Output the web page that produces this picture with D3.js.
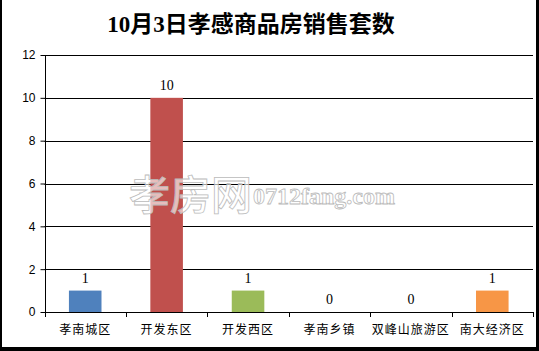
<!DOCTYPE html>
<html><head><meta charset="utf-8">
<script src="https://cdn.jsdelivr.net/npm/d3@7"></script>
<style>body{margin:0;background:#fff}svg{display:block}</style>
</head><body>
<script>
const categories = ["孝南城区","开发东区","开发西区","孝南乡镇","双峰山旅游区","南大经济区"];
const values = [1,10,1,0,0,1];
const colors = ["#4F81BD","#C0504D","#9BBB59","#8064A2","#4BACC6","#F79646"];
const yTicks = [0,2,4,6,8,10,12];
const title = "10月3日孝感商品房销售套数";

const W = 539, H = 351;
const svg = d3.select("body").append("svg").attr("width", W).attr("height", H);
svg.append("rect").attr("width", W).attr("height", H).attr("fill", "#fff");

const m = {left: 44.5, right: 533, top: 55, bottom: 312};
const x = d3.scaleBand().domain(categories).range([m.left, m.right]).paddingInner(0.6).paddingOuter(0.3);
const y = d3.scaleLinear().domain([0, 12]).range([m.bottom, m.top]);

// gridlines
svg.append("g").selectAll("line").data(yTicks.filter(d => d > 0)).join("line")
  .attr("x1", m.left).attr("x2", m.right)
  .attr("y1", d => Math.round(y(d)) + 0.5).attr("y2", d => Math.round(y(d)) + 0.5)
  .attr("stroke", "#000").attr("stroke-width", 1);

// bars
svg.append("g").selectAll("rect").data(values).join("rect")
  .attr("x", (d, i) => x(categories[i]))
  .attr("width", x.bandwidth())
  .attr("y", d => y(d))
  .attr("height", d => y(0) - y(d))
  .attr("fill", (d, i) => colors[i]);

// value labels
svg.append("g").selectAll("text").data(values).join("text")
  .attr("x", (d, i) => x(categories[i]) + x.bandwidth() / 2)
  .attr("y", d => y(d) - 8)
  .attr("text-anchor", "middle")
  .attr("font-family", "'Liberation Serif', serif")
  .attr("font-size", 14)
  .attr("fill", "#000")
  .text(d => d);

// y axis
const yAxis = svg.append("g").attr("transform", `translate(${Math.round(m.left)+0.5},0)`)
  .call(d3.axisLeft(y).tickValues(yTicks).tickSize(5).tickPadding(5).tickFormat(d3.format("d")));
yAxis.select(".domain").attr("stroke", "#000").attr("d", `M0,${m.top}V${m.bottom}`);
yAxis.selectAll(".tick line").attr("stroke", "#000");
yAxis.selectAll(".tick text").attr("font-family", "'Liberation Sans', sans-serif").attr("font-size", 12).attr("fill", "#000");

// x axis
const x0 = d3.scaleLinear().domain([0, categories.length]).range([m.left, m.right]);
const xg = svg.append("g");
xg.append("line").attr("x1", m.left).attr("x2", m.right).attr("y1", m.bottom + 0.5).attr("y2", m.bottom + 0.5).attr("stroke", "#000");
xg.selectAll("line.t").data(d3.range(categories.length + 1)).join("line").attr("class", "t")
  .attr("x1", d => Math.round(x0(d)) + 0.5).attr("x2", d => Math.round(x0(d)) + 0.5)
  .attr("y1", m.bottom).attr("y2", m.bottom + 5).attr("stroke", "#000");
xg.selectAll("text").data(categories).join("text")
  .attr("x", d => x(d) + x.bandwidth() / 2)
  .attr("y", 334)
  .attr("text-anchor", "middle")
  .attr("font-family", "'Noto Sans CJK SC', sans-serif")
  .attr("font-size", 12)
  .attr("letter-spacing", 1)
  .attr("fill", "#000")
  .text(d => d);

// watermark
const wm = svg.append("g").attr("fill", "#fff").attr("fill-opacity", 0.65).attr("stroke", "#bbb").attr("stroke-width", 0.8);
wm.append("text").attr("x", 129).attr("y", 210).attr("font-family", "'Noto Sans CJK SC', sans-serif")
  .attr("font-size", 41).attr("font-weight", 500).text("孝房网");
wm.append("text").attr("x", 253).attr("y", 204).attr("font-family", "'Liberation Serif', serif")
  .attr("font-size", 24).attr("font-weight", "bold").text("0712fang.com");

// title
svg.append("text").attr("x", 251).attr("y", 32).attr("text-anchor", "middle")
  .attr("font-family", "'Liberation Serif', 'Noto Sans CJK SC', serif")
  .attr("font-size", 23).attr("font-weight", "bold").attr("fill", "#000").text(title);

// border
svg.append("rect").attr("x", 0).attr("y", 0).attr("width", 2).attr("height", H).attr("fill", "#000");
svg.append("rect").attr("x", 536).attr("y", 0).attr("width", 3).attr("height", H).attr("fill", "#000");
svg.append("rect").attr("x", 0).attr("y", 347).attr("width", W).attr("height", 4).attr("fill", "#000");
</script>
</body></html>
